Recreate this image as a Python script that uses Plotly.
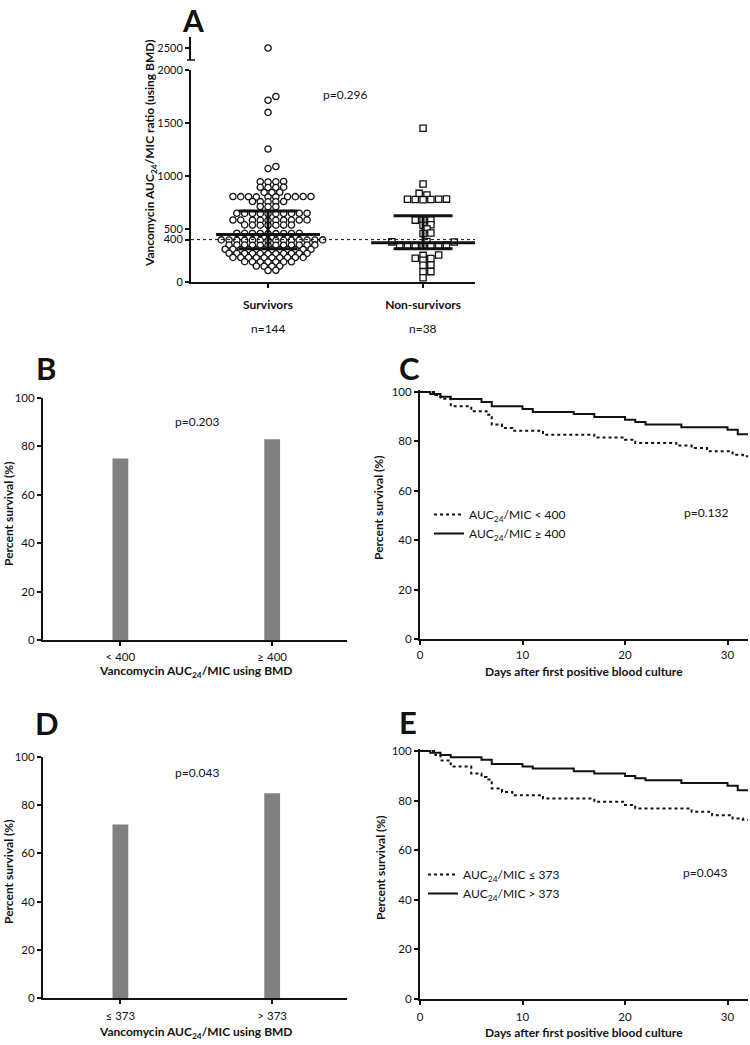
import numpy as np
import plotly.graph_objects as go

W, H = 750, 1045
FONT = "Lato"
BLACK = "#111111"
GRAY = "#808080"


def fx(px):
    return px / W


def fy(py):
    return 1 - py / H


# ---------------- Panel A data ----------------
groups = ["Survivors", "Non-survivors"]
group_n = ["n=144", "n=38"]
survivors = [
    2500, 1750, 1715, 1600, 1255, 1090, 1070,
    948, 946, 945, 943,
    895, 893, 892, 891,
    846, 845, 844,
    807, 806, 806, 805, 805, 804, 804, 803, 803, 802,
    760, 759, 758, 757, 756,
    712, 710, 709,
    649, 648, 648, 647, 647, 646, 646, 645, 645, 644,
    586, 585, 585, 584, 584, 583, 583, 582, 582, 581,
    539, 538, 537, 537, 536, 536, 535,
    460, 459, 459, 458, 458, 457, 457, 456, 456,
    397, 397, 396, 396, 395, 395, 395, 394, 394, 394, 393, 393, 392, 392,
    350, 349, 349, 348, 348, 348, 347, 347, 347, 346, 346, 345,
    309, 308, 308, 307, 307, 307, 306, 306, 306, 305, 305, 304,
    271, 270, 270, 269, 269, 269, 268, 268, 268, 267, 267,
    232, 232, 231, 231, 230, 230, 229, 229, 228, 228,
    192, 191, 190, 190, 189, 189, 188,
    151, 150, 149, 148,
    110, 108,
]
non_survivors = [
    1450, 925, 836, 820, 782, 781, 780, 779, 778, 777,
    586, 584, 582, 540, 536, 500, 462, 458,
    381, 379, 377,
    349, 348, 347, 346, 345, 344, 343,
    255, 251, 224, 222, 205, 160, 157, 98, 96, 40,
]
surv_stats = [314, 447, 670]      # Q1, median, Q3
nonsurv_stats = [314, 371, 626]   # Q1, median, Q3
threshold_A = 400
p_A = "p=0.296"
A_yticks = [0, 400, 500, 1000, 1500, 2000]
A_break_tick = [2500]

# ---------------- Panel B / D data ----------------
B_labels = ["&lt; 400", "≥ 400"]
B_values = [75, 83]
p_B = "p=0.203"
D_labels = ["≤ 373", "&gt; 373"]
D_values = [72, 85]
p_D = "p=0.043"

# ---------------- Panel C / E data (Kaplan-Meier) ----------------
C_lo_name = "AUC<sub>24</sub>/MIC &lt; 400"
C_lo_t = [0, 1.5, 2, 3, 5, 6.5, 7, 8, 9, 12, 17, 20, 21, 25, 26.5, 28, 30.5, 31.5, 32]
C_lo_s = [100, 98.8, 97.3, 94.2, 92.2, 90.8, 86.8, 85.4, 84.3, 82.7, 81.6, 80.7, 79.4, 78.3, 77.3, 76.0, 74.6, 74.0, 74.0]
C_hi_name = "AUC<sub>24</sub>/MIC ≥ 400"
C_hi_t = [0, 1, 2, 3, 6, 7, 10, 11, 15, 17, 20, 21, 22, 25.5, 30, 31, 32]
C_hi_s = [100, 99.2, 98.1, 97.2, 96.0, 94.2, 93.1, 91.9, 91.1, 89.9, 88.8, 87.9, 86.8, 85.7, 84.7, 82.9, 82.9]
p_C = "p=0.132"

E_lo_name = "AUC<sub>24</sub>/MIC ≤ 373"
E_lo_t = [0, 1.5, 2, 3, 5, 6, 6.5, 7, 8, 9, 12, 17, 20, 21, 26.5, 28.5, 30.5, 31.5, 32]
E_lo_s = [100, 98.4, 96.2, 93.8, 90.9, 89.5, 88.5, 84.9, 83.5, 82.2, 80.8, 79.5, 78.2, 76.8, 75.5, 74.1, 72.8, 72.3, 72.3]
E_hi_name = "AUC<sub>24</sub>/MIC &gt; 373"
E_hi_t = [0, 1, 2, 3, 6, 7, 10, 11, 15, 17, 20, 21, 22, 25.5, 30, 31, 32]
E_hi_s = [100, 99.3, 98.4, 97.5, 96.5, 94.8, 93.8, 92.9, 91.8, 90.9, 89.9, 89.0, 88.2, 87.1, 86.0, 84.2, 84.2]
p_E = "p=0.043"

KM_xticks = [0, 10, 20, 30]
pct_ticks = [0, 20, 40, 60, 80, 100]

# ---------------- layout geometry (pixels) ----------------
A_x0, A_x1, A_ytop, A_ybot = 191, 475, 70, 282
A_xrange = [-0.497, 1.335]
A_yrange = [0, 2000]
A_ppu_x = (A_x1 - A_x0) / (A_xrange[1] - A_xrange[0])
A_ppu_y = (A_ybot - A_ytop) / (A_yrange[1] - A_yrange[0])


def swarm(values, spacing=7.8):
    """Column-scatter layout: points in a row sit side by side, close rows stagger."""
    vals = np.asarray(values, dtype=float)
    order = np.argsort(vals, kind="stable")
    placed = []
    offs = np.zeros(len(vals))
    half = spacing / 2.0
    cands = [0.0]
    for j in range(1, 80):
        cands += [j * half, -j * half]
    for i in order:
        y = vals[i] * A_ppu_y
        for c in cands:
            ok = True
            for (px, py) in placed:
                dy = abs(py - y)
                if dy < 3.8:
                    need = spacing
                elif dy < 4.8:
                    need = half
                else:
                    continue
                if abs(c - px) < need - 1e-6:
                    ok = False
                    break
            if ok:
                break
        placed.append((c, y))
        offs[i] = c
    return offs / A_ppu_x


fig = go.Figure()

TICKFONT = dict(family=FONT, size=11.5, color=BLACK)
axis_common = dict(
    showline=True, linecolor=BLACK, linewidth=2, ticks="outside", ticklen=4,
    tickwidth=2, tickcolor=BLACK, showgrid=False, zeroline=False,
    tickfont=TICKFONT, automargin=False,
)

# ---- Panel A scatter ----
for gi, (vals, sym) in enumerate([(survivors, "circle"), (non_survivors, "square")]):
    vals = np.asarray(vals, dtype=float)
    main = vals[vals <= 2000]
    high = vals[vals > 2000]
    offs = swarm(main)
    fig.add_trace(go.Scatter(
        x=gi + offs, y=main, mode="markers", xaxis="x", yaxis="y", showlegend=False,
        marker=dict(symbol=sym, size=6.3, color="white", line=dict(color=BLACK, width=1.3)),
        hoverinfo="y",
    ))
    if len(high):
        fig.add_trace(go.Scatter(
            x=gi + np.zeros(len(high)), y=high, mode="markers", xaxis="x", yaxis="y2",
            showlegend=False,
            marker=dict(symbol=sym, size=6.3, color="white", line=dict(color=BLACK, width=1.3)),
        ))

med_half, cap_half = 0.335, 0.19
for gi, st in enumerate([surv_stats, nonsurv_stats]):
    q1, med, q3 = st
    xs = [gi - med_half, gi + med_half, None, gi - cap_half, gi + cap_half, None,
          gi - cap_half, gi + cap_half, None, gi, gi]
    ys = [med, med, None, q1, q1, None, q3, q3, None, q1, q3]
    fig.add_trace(go.Scatter(x=xs, y=ys, mode="lines", xaxis="x", yaxis="y",
                             showlegend=False, line=dict(color=BLACK, width=3),
                             hoverinfo="skip"))

# ---- Panel B / D bars ----
for (vals, xa, ya) in [(B_values, "x3", "y3"), (D_values, "x5", "y5")]:
    fig.add_trace(go.Bar(x=list(range(len(vals))), y=vals, xaxis=xa, yaxis=ya,
                         width=0.104, marker=dict(color=GRAY, line=dict(width=0)),
                         showlegend=False))

# ---- Panel C / E KM curves ----
for (t, s, name, dash, xa, ya, lg) in [
    (C_lo_t, C_lo_s, C_lo_name, "dot", "x4", "y4", "legend"),
    (C_hi_t, C_hi_s, C_hi_name, "solid", "x4", "y4", "legend"),
    (E_lo_t, E_lo_s, E_lo_name, "dot", "x6", "y6", "legend2"),
    (E_hi_t, E_hi_s, E_hi_name, "solid", "x6", "y6", "legend2"),
]:
    fig.add_trace(go.Scatter(x=t, y=s, mode="lines", line_shape="hv", name=name,
                             xaxis=xa, yaxis=ya, legend=lg,
                             line=dict(color=BLACK, width=2, dash=dash)))


def ydom(top_px, bot_px):
    return [fy(bot_px), fy(top_px)]


def xdom(l_px, r_px):
    return [fx(l_px), fx(r_px)]


km_ext = 1.0
C_top, C_bot = 392, 639
E_top, E_bot = 751, 999

legend_common = dict(xanchor="left", yanchor="top", bgcolor="rgba(0,0,0,0)",
                     itemwidth=30, tracegroupgap=0,
                     font=dict(family=FONT, size=12, color=BLACK))

layout = dict(
    width=W, height=H, margin=dict(l=0, r=0, t=0, b=0, pad=0), autosize=False,
    paper_bgcolor="white", plot_bgcolor="white",
    font=dict(family=FONT, size=12, color=BLACK),
    xaxis=dict(axis_common, domain=xdom(A_x0, A_x1), range=A_xrange, anchor="y",
               tickvals=[0, 1], ticktext=["<b>%s</b>" % g for g in groups],
               ticklabelstandoff=7, tickfont=dict(TICKFONT, size=12)),
    yaxis=dict(axis_common, domain=ydom(A_ytop, A_ybot), range=A_yrange, anchor="x",
               tickvals=A_yticks, tickfont=dict(TICKFONT, size=11)),
    yaxis2=dict(axis_common, domain=ydom(37, 60), range=[2385, 2605], anchor="x",
                tickvals=A_break_tick, tickfont=dict(TICKFONT, size=11)),
    xaxis3=dict(axis_common, domain=xdom(43, 347), range=[-0.51, 1.493], anchor="y3",
                tickvals=[0, 1], ticktext=B_labels, ticklabelstandoff=1),
    yaxis3=dict(axis_common, domain=ydom(398, 640), range=[0, 100], anchor="x3",
                tickvals=pct_ticks),
    xaxis4=dict(axis_common, domain=xdom(420, 748), range=[0, 32], anchor="y4",
                tickvals=KM_xticks, ticklabelstandoff=0),
    yaxis4=dict(axis_common, domain=ydom(C_bot - (C_bot - C_top) * (100 + km_ext) / 100, C_bot),
                range=[0, 100 + km_ext], anchor="x4", tickvals=pct_ticks),
    xaxis5=dict(axis_common, domain=xdom(43, 347), range=[-0.51, 1.493], anchor="y5",
                tickvals=[0, 1], ticktext=D_labels, ticklabelstandoff=2),
    yaxis5=dict(axis_common, domain=ydom(757, 998), range=[0, 100], anchor="x5",
                tickvals=pct_ticks),
    xaxis6=dict(axis_common, domain=xdom(420, 748), range=[0, 32], anchor="y6",
                tickvals=KM_xticks, ticklabelstandoff=2),
    yaxis6=dict(axis_common, domain=ydom(E_bot - (E_bot - E_top) * (100 + km_ext) / 100, E_bot),
                range=[0, 100 + km_ext], anchor="x6", tickvals=pct_ticks),
    legend=dict(legend_common, x=fx(429), y=fy(500)),
    legend2=dict(legend_common, x=fx(423), y=fy(860)),
)
fig.update_layout(**layout)

fig.add_shape(type="line", xref="paper", yref="y", x0=fx(A_x0), x1=fx(A_x1),
              y0=threshold_A, y1=threshold_A, line=dict(color=BLACK, width=1, dash="dot"))
fig.add_shape(type="line", xref="paper", yref="paper", x0=fx(187), x1=fx(195),
              y0=fy(60), y1=fy(60), line=dict(color=BLACK, width=1.5))


def ann(text, xp, yp, size=12, bold=False, angle=0, yanchor="middle"):
    if bold:
        text = "<b>%s</b>" % text
    fig.add_annotation(text=text, x=fx(xp), y=fy(yp), xref="paper", yref="paper",
                       xanchor="center", yanchor=yanchor, showarrow=False,
                       textangle=angle, font=dict(family=FONT, size=size, color=BLACK))


ann("A", 193, 0, size=30, bold=True, yanchor="top")
for letter, xp, yp in [("B", 46, 368), ("C", 409, 368), ("D", 47, 723), ("E", 408, 722)]:
    ann(letter, xp, yp, size=31, bold=True)

ann("Vancomycin AUC<sub>24</sub>/MIC ratio (using BMD)", 150, 153, bold=True, angle=-90)
ann("Percent survival (%)", 8, 514, bold=True, angle=-90)
ann("Percent survival (%)", 378, 508, bold=True, angle=-90)
ann("Percent survival (%)", 8, 872, bold=True, angle=-90)
ann("Percent survival (%)", 380, 868, bold=True, angle=-90)
ann("Vancomycin AUC<sub>24</sub>/MIC using BMD", 196, 671, bold=True)
ann("Vancomycin AUC<sub>24</sub>/MIC using BMD", 196, 1032, bold=True)
ann("Days after first positive blood culture", 584, 671, bold=True)
ann("Days after first positive blood culture", 584, 1032, bold=True)

ann(group_n[0], 268, 328)
ann(group_n[1], 423, 328)

ann(p_A, 345, 94)
ann(p_B, 197, 421)
ann(p_C, 706, 512)
ann(p_D, 197, 772)
ann(p_E, 705, 872)

# remove the default page margin so the 750x1045 figure fills the window exactly
fig.write_html("out.html", config={"displayModeBar": False},
               post_script="document.body.style.margin='0px';")
